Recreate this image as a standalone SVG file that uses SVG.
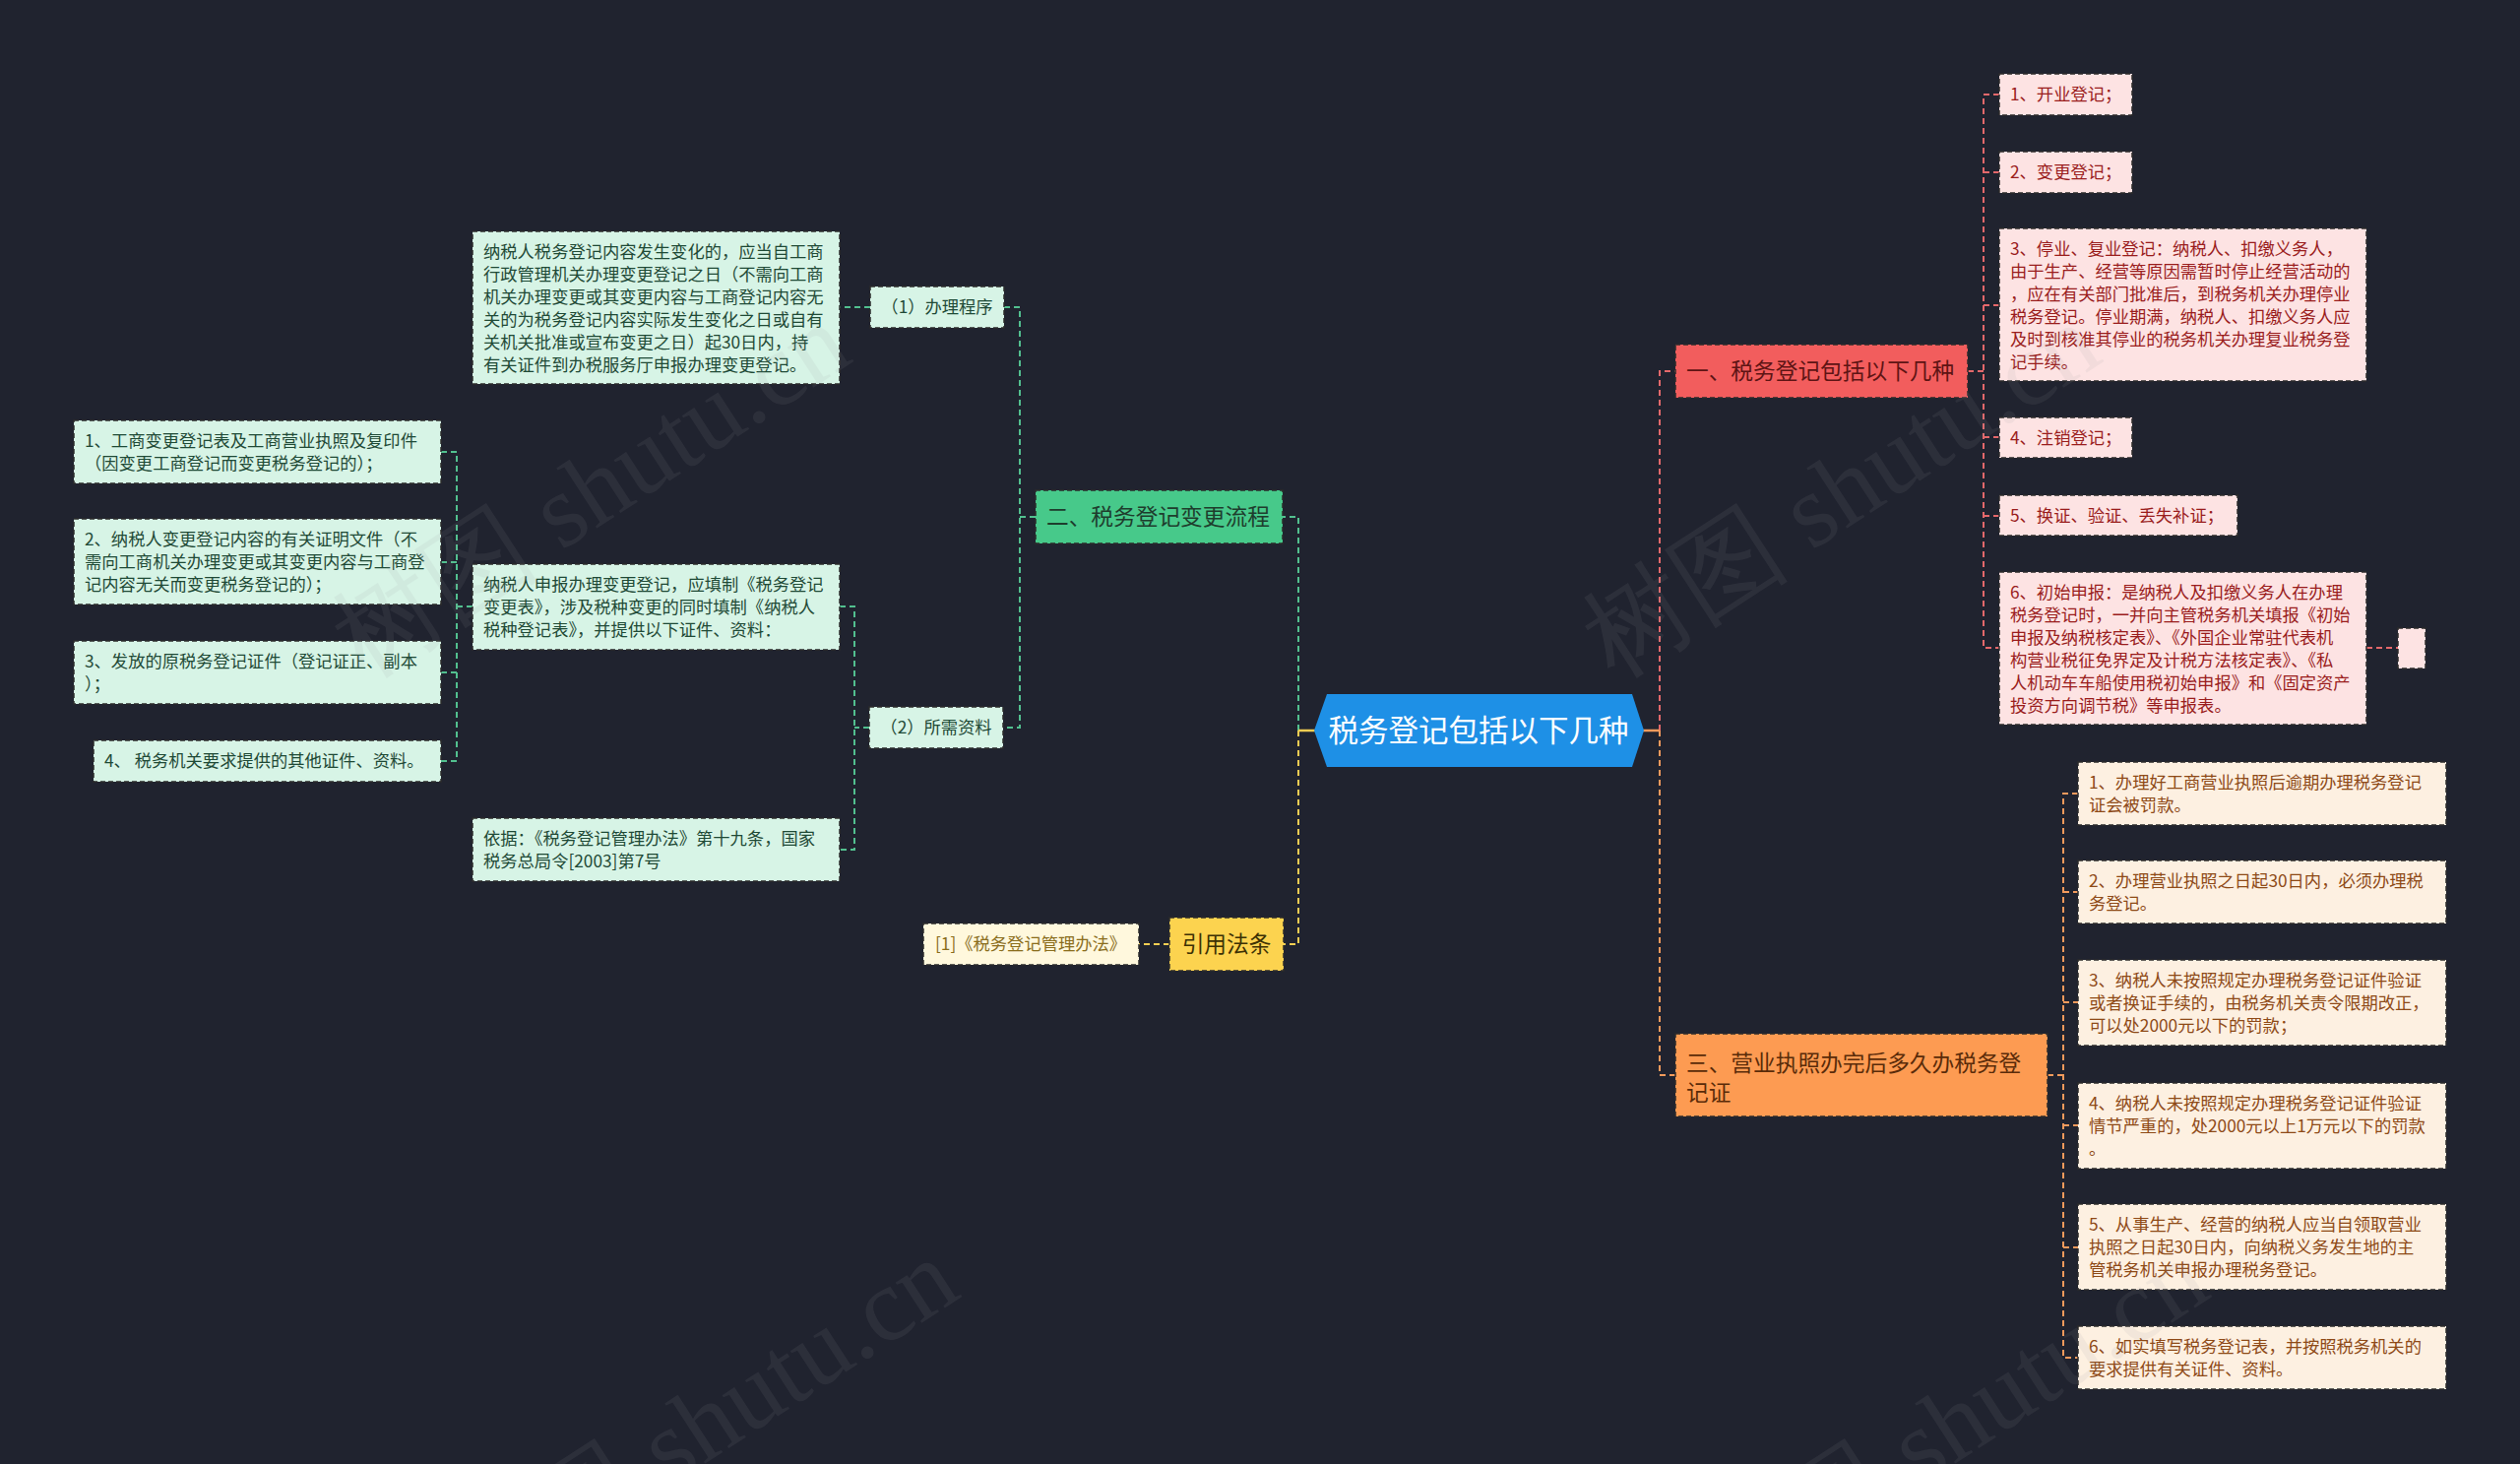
<svg xmlns="http://www.w3.org/2000/svg" width="2560" height="1487" viewBox="0 0 2560 1487">
<style>
text{font-family:"Noto Sans CJK SC","Noto Sans",sans-serif;}
.conn{fill:none;stroke-width:2;stroke-dasharray:6 4;}
.cg{stroke:#52c08f;}
.cr{stroke:#e4686b;}
.co{stroke:#f29a5c;}
.cy{stroke:#f2cd53;}
.solid{fill:none;stroke-width:2.5;}
.box{stroke:#2b2b2b;stroke-width:1.5;stroke-dasharray:5 3;}
.gl{fill:#d7f4e6;}
.gb{fill:#47c98a;}
.rl{fill:#fde3e3;}
.rb{fill:#f25d5d;}
.ol{fill:#fdf0e1;}
.ob{fill:#fd9b52;}
.yl{fill:#fff8dd;}
.yb{fill:#fcd34f;}
.t{font-size:17.3px;}
.tb{font-size:22.7px;}
.tgl{fill:#1f4a36;}
.tgb{fill:#1e3d2d;}
.trl{fill:#9a1d1d;}
.trb{fill:#5e1414;}
.tol{fill:#8e4a17;}
.tob{fill:#5a2b09;}
.tyl{fill:#8a6d1c;}
.tyb{fill:#3d3104;}
.wm{font-family:"Liberation Serif",serif;font-size:106px;fill:#9a9aa0;opacity:0.1;}
</style>
<rect width="2560" height="1487" fill="#20232f"/>

<g id="connectors">
  <path class="conn cg" d="M1319,742 V525 H1303"/>
  <path class="conn cg" d="M1020,312 H1036 V739 H1019 M1036,525 H1052"/>
  <path class="conn cg" d="M884,312 H853"/>
  <path class="conn cg" d="M883,739 H868 M853,616 H868 V863 H853"/>
  <path class="conn cg" d="M480,616 H464 M448,459 H464 V773 H448 M464,571 H448 M464,683 H448"/>
  <path class="conn cy" d="M1319,742 V959 H1304"/>
  <path class="conn cy" d="M1188,959 H1157"/>
  <path class="conn cr" d="M1686,742 V377 H1702"/>
  <path class="conn cr" d="M1999,377 H2015"/>
  <path class="conn cr" d="M2031,96 H2015 V658 H2031 M2015,175 H2031 M2015,310 H2031 M2015,444 H2031 M2015,524 H2031"/>
  <path class="conn cr" d="M2404,658 H2436"/>
  <path class="conn co" d="M1686,742 V1092 H1702"/>
  <path class="conn co" d="M2080,1092 H2096"/>
  <path class="conn co" d="M2111,806 H2096 V1379 H2111 M2096,906 H2111 M2096,1018 H2111 M2096,1143 H2111 M2096,1267 H2111"/>
  <path class="solid" stroke="#f2cd53" d="M1319,742 H1336"/>
  <path class="solid" stroke="#f29a5c" d="M1669,742 H1686"/>
</g>

<g id="root">
  <polygon points="1335,742 1348,705 1658,705 1670,742 1658,779 1348,779" fill="#1e90e6"/>
  <text x="1502" y="753" font-size="30.5" fill="#ffffff" text-anchor="middle">税务登记包括以下几种</text>
</g>

<g id="branch-green">
  <rect class="box gb" x="1052" y="498" width="251" height="54"/>
  <text class="tb tgb" x="1063" y="533">二、税务登记变更流程</text>
</g>
<g id="proc1">
  <rect class="box gl" x="884" y="291" width="136" height="42"/>
  <text class="t tgl" x="952" y="318" text-anchor="middle">（1）办理程序</text>
</g>
<g id="proc1-text">
  <rect class="box gl" x="480" y="235" width="373" height="155"/>
  <text class="t tgl" x="491" y="262">纳税人税务登记内容发生变化的，应当自工商</text>
  <text class="t tgl" x="491" y="285">行政管理机关办理变更登记之日（不需向工商</text>
  <text class="t tgl" x="491" y="308">机关办理变更或其变更内容与工商登记内容无</text>
  <text class="t tgl" x="491" y="331">关的为税务登记内容实际发生变化之日或自有</text>
  <text class="t tgl" x="491" y="354">关机关批准或宣布变更之日）起30日内，持</text>
  <text class="t tgl" x="491" y="377">有关证件到办税服务厅申报办理变更登记。</text>
</g>
<g id="proc2">
  <rect class="box gl" x="883" y="718" width="136" height="42"/>
  <text class="t tgl" x="951" y="745" text-anchor="middle">（2）所需资料</text>
</g>
<g id="proc2-text">
  <rect class="box gl" x="480" y="573" width="373" height="87"/>
  <text class="t tgl" x="491" y="600">纳税人申报办理变更登记，应填制《税务登记</text>
  <text class="t tgl" x="491" y="623">变更表》，涉及税种变更的同时填制《纳税人</text>
  <text class="t tgl" x="491" y="646">税种登记表》，并提供以下证件、资料：</text>
</g>
<g id="proc2-basis">
  <rect class="box gl" x="480" y="831" width="373" height="64"/>
  <text class="t tgl" x="491" y="858">依据：《税务登记管理办法》第十九条，国家</text>
  <text class="t tgl" x="491" y="881">税务总局令[2003]第7号</text>
</g>
<g id="doc1">
  <rect class="box gl" x="75" y="427" width="373" height="64"/>
  <text class="t tgl" x="86" y="454">1、工商变更登记表及工商营业执照及复印件</text>
  <text class="t tgl" x="86" y="477">（因变更工商登记而变更税务登记的）；</text>
</g>
<g id="doc2">
  <rect class="box gl" x="75" y="527" width="373" height="87"/>
  <text class="t tgl" x="86" y="554">2、纳税人变更登记内容的有关证明文件（不</text>
  <text class="t tgl" x="86" y="577">需向工商机关办理变更或其变更内容与工商登</text>
  <text class="t tgl" x="86" y="600">记内容无关而变更税务登记的）；</text>
</g>
<g id="doc3">
  <rect class="box gl" x="75" y="651" width="373" height="64"/>
  <text class="t tgl" x="86" y="678">3、发放的原税务登记证件（登记证正、副本</text>
  <text class="t tgl" x="86" y="701">）；</text>
</g>
<g id="doc4">
  <rect class="box gl" x="95" y="752" width="353" height="42"/>
  <text class="t tgl" x="106" y="779">4、 税务机关要求提供的其他证件、资料。</text>
</g>

<g id="branch-yellow">
  <rect class="box yb" x="1188" y="932" width="116" height="54"/>
  <text class="tb tyb" x="1246" y="967" text-anchor="middle">引用法条</text>
</g>
<g id="law1">
  <rect class="box yl" x="938" y="938" width="219" height="42"/>
  <text class="t tyl" x="950" y="965">[1]《税务登记管理办法》</text>
</g>

<g id="branch-red">
  <rect class="box rb" x="1702" y="350" width="297" height="54"/>
  <text class="tb trb" x="1713" y="385">一、税务登记包括以下几种</text>
</g>
<g id="reg1">
  <rect class="box rl" x="2031" y="75" width="135" height="42"/>
  <text class="t trl" x="2042" y="102">1、开业登记；</text>
</g>
<g id="reg2">
  <rect class="box rl" x="2031" y="154" width="135" height="42"/>
  <text class="t trl" x="2042" y="181">2、变更登记；</text>
</g>
<g id="reg3">
  <rect class="box rl" x="2031" y="232" width="373" height="155"/>
  <text class="t trl" x="2042" y="259">3、停业、复业登记：纳税人、扣缴义务人，</text>
  <text class="t trl" x="2042" y="282">由于生产、经营等原因需暂时停止经营活动的</text>
  <text class="t trl" x="2042" y="305">，应在有关部门批准后，到税务机关办理停业</text>
  <text class="t trl" x="2042" y="328">税务登记。停业期满，纳税人、扣缴义务人应</text>
  <text class="t trl" x="2042" y="351">及时到核准其停业的税务机关办理复业税务登</text>
  <text class="t trl" x="2042" y="374">记手续。</text>
</g>
<g id="reg4">
  <rect class="box rl" x="2031" y="424" width="135" height="41"/>
  <text class="t trl" x="2042" y="451">4、注销登记；</text>
</g>
<g id="reg5">
  <rect class="box rl" x="2031" y="503" width="242" height="41"/>
  <text class="t trl" x="2042" y="530">5、换证、验证、丢失补证；</text>
</g>
<g id="reg6">
  <rect class="box rl" x="2031" y="581" width="373" height="155"/>
  <text class="t trl" x="2042" y="608">6、初始申报：是纳税人及扣缴义务人在办理</text>
  <text class="t trl" x="2042" y="631">税务登记时，一并向主管税务机关填报《初始</text>
  <text class="t trl" x="2042" y="654">申报及纳税核定表》、《外国企业常驻代表机</text>
  <text class="t trl" x="2042" y="677">构营业税征免界定及计税方法核定表》、《私</text>
  <text class="t trl" x="2042" y="700">人机动车车船使用税初始申报》和《固定资产</text>
  <text class="t trl" x="2042" y="723">投资方向调节税》等申报表。</text>
</g>
<g id="reg6-empty">
  <rect class="box rl" x="2436" y="638" width="28" height="41"/>
</g>

<g id="branch-orange">
  <rect class="box ob" x="1702" y="1050" width="378" height="84"/>
  <text class="tb tob" x="1713" y="1088">三、营业执照办完后多久办税务登</text>
  <text class="tb tob" x="1713" y="1118">记证</text>
</g>
<g id="time1">
  <rect class="box ol" x="2111" y="774" width="374" height="64"/>
  <text class="t tol" x="2122" y="801">1、办理好工商营业执照后逾期办理税务登记</text>
  <text class="t tol" x="2122" y="824">证会被罚款。</text>
</g>
<g id="time2">
  <rect class="box ol" x="2111" y="874" width="374" height="64"/>
  <text class="t tol" x="2122" y="901">2、办理营业执照之日起30日内，必须办理税</text>
  <text class="t tol" x="2122" y="924">务登记。</text>
</g>
<g id="time3">
  <rect class="box ol" x="2111" y="975" width="374" height="87"/>
  <text class="t tol" x="2122" y="1002">3、纳税人未按照规定办理税务登记证件验证</text>
  <text class="t tol" x="2122" y="1025">或者换证手续的，由税务机关责令限期改正，</text>
  <text class="t tol" x="2122" y="1048">可以处2000元以下的罚款；</text>
</g>
<g id="time4">
  <rect class="box ol" x="2111" y="1100" width="374" height="87"/>
  <text class="t tol" x="2122" y="1127">4、纳税人未按照规定办理税务登记证件验证</text>
  <text class="t tol" x="2122" y="1150">情节严重的，处2000元以上1万元以下的罚款</text>
  <text class="t tol" x="2122" y="1173">。</text>
</g>
<g id="time5">
  <rect class="box ol" x="2111" y="1223" width="374" height="87"/>
  <text class="t tol" x="2122" y="1250">5、从事生产、经营的纳税人应当自领取营业</text>
  <text class="t tol" x="2122" y="1273">执照之日起30日内，向纳税义务发生地的主</text>
  <text class="t tol" x="2122" y="1296">管税务机关申报办理税务登记。</text>
</g>
<g id="time6">
  <rect class="box ol" x="2111" y="1347" width="374" height="64"/>
  <text class="t tol" x="2122" y="1374">6、如实填写税务登记表，并按照税务机关的</text>
  <text class="t tol" x="2122" y="1397">要求提供有关证件、资料。</text>
</g>

<g id="watermarks">
  <text class="wm" transform="translate(370,690) rotate(-33)">树图 shutu.cn</text>
  <text class="wm" transform="translate(1640,690) rotate(-33)">树图 shutu.cn</text>
  <text class="wm" transform="translate(480,1640) rotate(-33)">树图 shutu.cn</text>
  <text class="wm" transform="translate(1750,1640) rotate(-33)">树图 shutu.cn</text>
</g>
</svg>
